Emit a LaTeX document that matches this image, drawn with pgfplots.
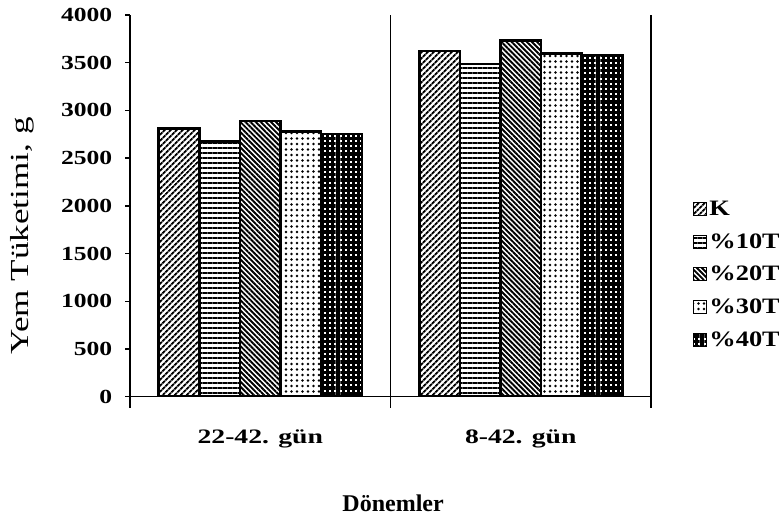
\documentclass[border=0pt]{standalone}
\usepackage{fontspec}
\setmainfont{Liberation Serif}
\newfontfamily\widefont[FakeStretch=1.35]{Liberation Serif}
\newfontfamily\tickfont[FakeStretch=1.28]{Liberation Serif}
\newfontfamily\legfont[FakeStretch=1.2]{Liberation Serif}
\newfontfamily\ylabfont[FakeStretch=1.35]{Liberation Serif}
\usepackage{pgfplots}
\pgfplotsset{compat=1.18}
\usetikzlibrary{patterns.meta}

\begin{document}
\begin{tikzpicture}
\begin{axis}[
  at={(130pt,121.3pt)}, anchor=south west,
  scale only axis, width=521pt, height=381.7pt,
  ybar=0pt, bar width=40.6pt,
  legend image code/.code={\draw[#1, line width=1pt] (0pt,-6.5pt) rectangle (13pt,6.5pt);},
  xmin=-0.5, xmax=1.5, ymin=0, ymax=4000,
  enlargelimits=false,
  xtick={0,1}, xticklabels={22-42. gün, 8-42. gün},
  minor xtick={-0.5,0.5,1.5},
  xminorgrids, minor x grid style={black, line width=1.5pt},
  ytick={0,500,...,4000},
  axis x line*=bottom, axis y line*=left,
  axis line style={black, line width=1.5pt},
  tick align=outside,
  major tick length=4.5pt, minor tick length=11pt,
  tick style={black, line width=1.5pt},
  major x tick style={draw=none},
  scaled y ticks=false,
  /pgf/number format/assume math mode=true,
  yticklabel style={/pgf/number format/1000 sep={}, anchor=east, inner sep=0pt, xshift=-13pt,
    font=\tickfont\bfseries\fontsize{20}{22}\selectfont},
  xticklabel style={anchor=base, inner sep=0pt, yshift=-42pt,
    font=\widefont\bfseries\fontsize{20.5}{22}\selectfont},
  ylabel={Yem Tüketimi, g},
  ylabel style={at={(axis description cs:-0.207,0.421)}, anchor=center, rotate=0,
    font=\ylabfont\fontsize{26}{28}\selectfont},
  xlabel={Dönemler},
  xlabel style={at={(axis description cs:0.505,-0.302)}, anchor=base, inner sep=0pt,
    font=\bfseries\fontsize{24}{26}\selectfont},
  legend style={at={(axis description cs:1.081,0.518)}, anchor=north west,
    draw=none, fill=none, inner sep=0pt, row sep=12.5pt,
    font=\legfont\bfseries\fontsize{22}{24}\selectfont},
  legend cell align=left,
]
% K
\addplot[draw=black, line width=2.5pt,
  pattern={Lines[angle=45,distance=4pt,line width=2.1pt]}]
  coordinates {(0,2810) (1,3625)};
% %10T
\addplot[draw=black, line width=2.5pt,
  pattern={Lines[angle=0,distance=5pt,line width=2.8pt]}]
  coordinates {(0,2675) (1,3485)};
% %20T
\addplot[draw=black, line width=2.5pt,
  pattern={Lines[angle=-45,distance=3.6pt,line width=1.9pt]}]
  coordinates {(0,2890) (1,3735)};
% %30T
\addplot[draw=black, line width=2.5pt,
  pattern={Dots[distance=5.5pt,radius=1.3pt]}]
  coordinates {(0,2780) (1,3595)};
% %40T
\addplot[draw=black, line width=2.5pt,
  pattern={Hatch[angle=0,distance=5.2pt,line width=3.2pt]}]
  coordinates {(0,2755) (1,3580)};
\legend{K, \%10T, \%20T, \%30T, \%40T}
\end{axis}
\pgfresetboundingbox
\path[use as bounding box] (0,0) rectangle (779pt,518pt);
\end{tikzpicture}
\end{document}
